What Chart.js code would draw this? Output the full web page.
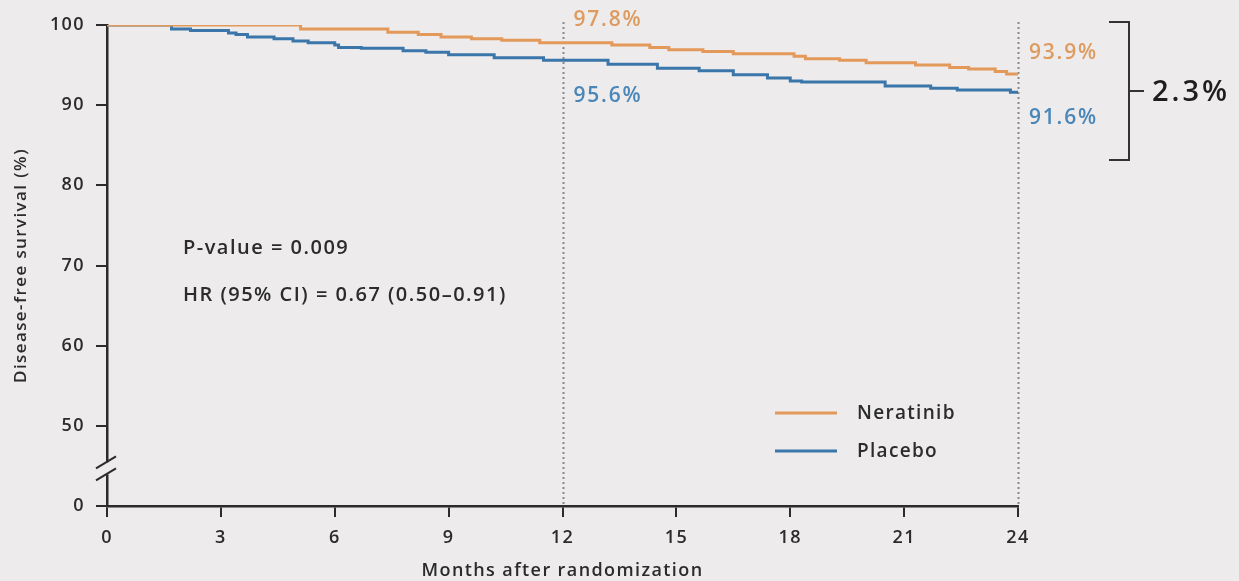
<!DOCTYPE html>
<html>
<head>
<meta charset="utf-8">
<script src="https://cdn.jsdelivr.net/npm/chart.js@4.4.1/dist/chart.umd.min.js"></script>
<style>
  html, body { margin: 0; padding: 0; background: #EDEBEC; }
  #wrap { width: 1239px; height: 581px; position: relative; }
  canvas { display: block; }
</style>
</head>
<body>
<div id="wrap"><canvas id="km" width="1239" height="581"></canvas></div>
<script>
// Kaplan-Meier step points: month of each event and survival (%) after it
const neratinibMonths = [0, 5.1, 7.4, 8.2, 8.8, 9.6, 10.4, 11.4, 13.3, 14.3, 14.8, 15.7, 16.5, 18.1, 18.4, 19.3, 20.0, 21.3, 22.2, 22.7, 23.4, 23.7, 24];
const neratinibDFS    = [100, 99.5, 99.1, 98.8, 98.5, 98.3, 98.1, 97.8, 97.5, 97.2, 96.9, 96.7, 96.4, 96.1, 95.8, 95.6, 95.3, 95.0, 94.7, 94.5, 94.2, 93.9, 93.9];

const placeboMonths = [0, 1.7, 2.2, 3.2, 3.4, 3.7, 4.4, 4.9, 5.3, 6.0, 6.1, 6.7, 7.8, 8.4, 9.0, 10.2, 11.5, 13.2, 14.5, 15.6, 16.5, 17.4, 18.0, 18.3, 20.5, 21.7, 22.4, 23.8, 24];
const placeboDFS    = [100, 99.5, 99.3, 99.0, 98.8, 98.5, 98.3, 98.0, 97.8, 97.5, 97.2, 97.1, 96.8, 96.6, 96.3, 95.9, 95.6, 95.1, 94.6, 94.3, 93.8, 93.4, 93.0, 92.9, 92.4, 92.1, 91.9, 91.6, 91.6];

// Landmark estimates at 12 and 24 months
const landmarkMonths    = [12, 24];
const neratinibLandmark = [97.8, 93.9];
const placeboLandmark   = [95.6, 91.6];

// Axis ticks; the y axis is broken below 50, so its bottom value stands for 0
const xTickValues = [0, 3, 6, 9, 12, 15, 18, 21, 24];
const yTickValues = [40, 50, 60, 70, 80, 90, 100];
const yTickLabels = ['0', '50', '60', '70', '80', '90', '100'];

const seriesNames = ['Neratinib', 'Placebo'];
const statLines = ['P-value = 0.009', 'HR (95% CI) = 0.67 (0.50\u20130.91)'];

const ORANGE = '#E3995A';
const ORANGE_TXT = '#DE9B5F';
const BLUE = '#3B76AA';
const BLUE_TXT = '#4A86B8';
const INK = '#2B2B2B';
const BG = '#EDEBEC';
const FONT = '"Open Sans"';

Chart.defaults.font.family = "'Open Sans', 'DejaVu Sans', sans-serif";
Chart.defaults.color = INK;

const toPoints = (xs, ys) => xs.map((x, i) => ({ x: x, y: ys[i] }));

// slightly open tracking for the axis text
const tracking = {
  id: 'tracking',
  beforeDraw(chart) { chart.ctx.letterSpacing = '1.4px'; },
  afterDraw(chart) { chart.ctx.letterSpacing = '0px'; }
};

const overlay = {
  id: 'overlay',
  beforeDatasetsDraw(chart) {
    const { ctx, chartArea } = chart;
    const xs = chart.scales.x;
    ctx.save();
    ctx.strokeStyle = '#8A8A8A';
    ctx.lineWidth = 2;
    ctx.setLineDash([2, 3]);
    landmarkMonths.forEach(m => {
      const px = Math.round(xs.getPixelForValue(m)) + 0.5;
      ctx.beginPath();
      ctx.moveTo(px, chartArea.top - 3);
      ctx.lineTo(px, chartArea.bottom);
      ctx.stroke();
    });
    ctx.restore();
  },
  afterDraw(chart) {
    const { ctx, chartArea } = chart;
    const xs = chart.scales.x, ys = chart.scales.y;
    ctx.save();

    // axis break between 0 and 50
    const yb = ys.getPixelForValue(44.7);
    const ax = chartArea.left;
    ctx.fillStyle = BG;
    ctx.fillRect(ax - 3, yb - 6, 6, 12);
    ctx.strokeStyle = INK;
    ctx.lineWidth = 2;
    [-6, 6].forEach(d => {
      ctx.beginPath();
      ctx.moveTo(ax - 11, yb + d + 6);
      ctx.lineTo(ax + 9, yb + d - 6);
      ctx.stroke();
    });

    // landmark labels
    ctx.font = '600 21px ' + FONT;
    ctx.letterSpacing = '1.8px';
    ctx.textBaseline = 'middle';
    ctx.textAlign = 'left';
    const offN = [-23, -21];
    const offP = [36, 26];
    landmarkMonths.forEach((m, i) => {
      const px = xs.getPixelForValue(m) + 11;
      ctx.fillStyle = ORANGE_TXT;
      ctx.fillText(neratinibLandmark[i].toFixed(1) + '%', px, ys.getPixelForValue(neratinibLandmark[i]) + offN[i]);
      ctx.fillStyle = BLUE_TXT;
      ctx.fillText(placeboLandmark[i].toFixed(1) + '%', px, ys.getPixelForValue(placeboLandmark[i]) + offP[i]);
    });

    // bracket showing the 24-month difference
    const bx = xs.getPixelForValue(24) + 111;
    const bTop = chartArea.top - 3, bBot = chartArea.top + 135;
    const bMid = (bTop + bBot) / 2;
    ctx.strokeStyle = '#333';
    ctx.lineWidth = 2;
    ctx.beginPath();
    ctx.moveTo(bx - 20, bTop);
    ctx.lineTo(bx, bTop);
    ctx.lineTo(bx, bBot);
    ctx.lineTo(bx - 20, bBot);
    ctx.moveTo(bx, bMid);
    ctx.lineTo(bx + 15, bMid);
    ctx.stroke();
    const diff = neratinibLandmark[1] - placeboLandmark[1];
    ctx.fillStyle = '#1E1E1E';
    ctx.font = '600 29px ' + FONT;
    ctx.letterSpacing = '3px';
    ctx.fillText(diff.toFixed(1) + '%', bx + 23, bMid + 2);

    // statistics
    ctx.fillStyle = INK;
    ctx.font = '600 20px ' + FONT;
    ctx.letterSpacing = '1.5px';
    const sx = xs.getPixelForValue(2);
    ctx.fillText(statLines[0], sx, 248);
    ctx.fillText(statLines[1], sx, 295);

    // legend
    ctx.font = '600 19px ' + FONT;
    ctx.letterSpacing = '1.3px';
    chart.data.datasets.forEach((ds, i) => {
      const ly = 413 + i * 38;
      ctx.strokeStyle = ds.borderColor;
      ctx.lineWidth = 3;
      ctx.beginPath();
      ctx.moveTo(775, ly);
      ctx.lineTo(837, ly);
      ctx.stroke();
      ctx.fillStyle = INK;
      ctx.fillText(ds.label, 857, ly + 1);
    });
    ctx.restore();
  }
};

new Chart(document.getElementById('km'), {
  type: 'line',
  data: {
    datasets: [
      { label: seriesNames[0], data: toPoints(neratinibMonths, neratinibDFS), borderColor: ORANGE, borderWidth: 3, stepped: true, pointRadius: 0, fill: false },
      { label: seriesNames[1], data: toPoints(placeboMonths, placeboDFS), borderColor: BLUE, borderWidth: 3, stepped: true, pointRadius: 0, fill: false }
    ]
  },
  options: {
    responsive: false,
    animation: false,
    devicePixelRatio: 1,
    layout: { padding: { left: 0, right: 221, top: 25, bottom: 0 } },
    plugins: { legend: { display: false }, tooltip: { enabled: false } },
    scales: {
      x: {
        type: 'linear', min: 0, max: 24,
        afterBuildTicks: s => { s.ticks = xTickValues.map(v => ({ value: v })); },
        afterFit: s => { s.height = 75; },
        ticks: { font: { size: 18, weight: '600' }, color: INK, padding: 10, maxRotation: 0 },
        grid: { drawOnChartArea: false, drawTicks: true, tickLength: 11, color: INK, lineWidth: 2 },
        border: { display: true, color: INK, width: 2.5 },
        title: { display: true, text: 'Months after randomization', font: { size: 18, weight: '600' }, color: INK, padding: { top: 0, bottom: -1 } }
      },
      y: {
        type: 'linear', min: 40, max: 100,
        afterBuildTicks: s => { s.ticks = yTickValues.map(v => ({ value: v })); },
        afterFit: s => { s.width = 107; },
        ticks: { font: { size: 18, weight: '600' }, color: INK, padding: 11, callback: v => yTickLabels[yTickValues.indexOf(v)] },
        grid: { drawOnChartArea: false, drawTicks: true, tickLength: 11, color: INK, lineWidth: 2 },
        border: { display: true, color: INK, width: 2.5 },
        title: { display: true, text: 'Disease-free survival (%)', font: { size: 17, weight: '600' }, color: INK, padding: { top: 11, bottom: 0 } }
      }
    }
  },
  plugins: [tracking, overlay]
});
</script>
</body>
</html>
